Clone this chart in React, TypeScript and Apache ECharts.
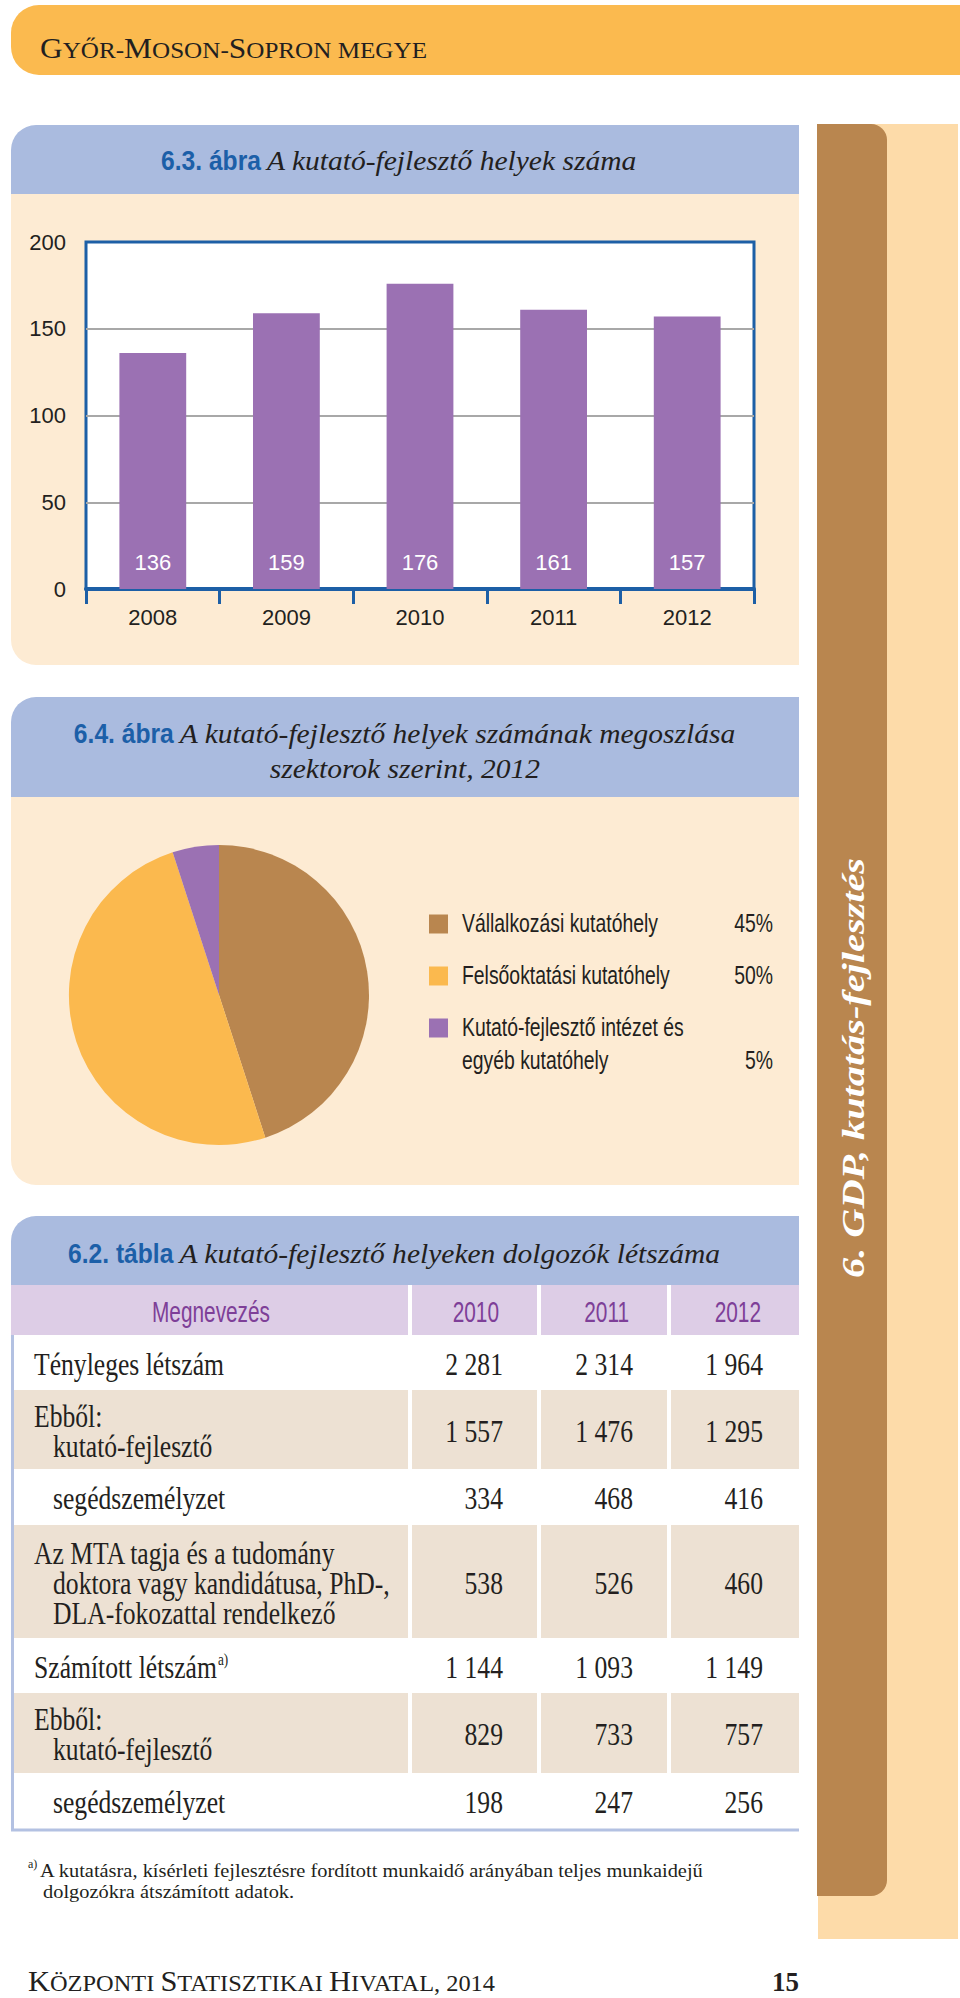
import React, { useEffect, useRef } from "react";
import * as echarts from "echarts";

// ---------------- data ----------------
const bannerText = "Győr-Moson-Sopron megye";
const footerText = "Központi Statisztikai Hivatal, 2014";
const pageNumber = "15";
const sideTabText = "6. GDP, kutatás-fejlesztés";

const barTitleLabel = "6.3. ábra";
const barTitleText = "A kutató-fejlesztő helyek száma";
const barYears = ["2008", "2009", "2010", "2011", "2012"];
const placeCounts = [136, 159, 176, 161, 157];
const yMin = 0;
const yMax = 200;
const yStep = 50;

const pieTitleLabel = "6.4. ábra";
const pieTitleLines = ["A kutató-fejlesztő helyek számának megoszlása", "szektorok szerint, 2012"];
const sectorNames = ["Vállalkozási kutatóhely", "Felsőoktatási kutatóhely", "Kutató-fejlesztő intézet és\negyéb kutatóhely"];
const sectorShares = [45, 50, 5];

const tableTitleLabel = "6.2. tábla";
const tableTitleText = "A kutató-fejlesztő helyeken dolgozók létszáma";
const tableColumnHeader = "Megnevezés";
const tableYears = ["2010", "2011", "2012"];
const tableRowLabels = [
  "Tényleges létszám",
  "Ebből:\nkutató-fejlesztő",
  "segédszemélyzet",
  "Az MTA tagja és a tudomány\ndoktora vagy kandidátusa, PhD-,\nDLA-fokozattal rendelkező",
  "Számított létszám",
  "Ebből:\nkutató-fejlesztő",
  "segédszemélyzet",
];
const tableRowNotes = ["", "", "", "", "a)", "", ""];
const staff2010 = [2281, 1557, 334, 538, 1144, 829, 198];
const staff2011 = [2314, 1476, 468, 526, 1093, 733, 247];
const staff2012 = [1964, 1295, 416, 460, 1149, 757, 256];
const footnoteMark = "a)";
const footnoteLines = [
  "A kutatásra, kísérleti fejlesztésre fordított munkaidő arányában teljes munkaidejű",
  "dolgozókra átszámított adatok.",
];

// ---------------- styles ----------------
const C = {
  ink: "#231F20",
  orange: "#FBBA4F",
  headerBlue: "#AABBDF",
  cream: "#FDEBD3",
  plotBlue: "#1D5FA6",
  titleBlue: "#1C5FA8",
  grid: "#A8A8A8",
  purple: "#9B71B3",
  brown: "#B9864F",
  peach: "#FDDBA9",
  yellow: "#FBB94E",
  lavender: "#DDCDE6",
  lavenderText: "#7E3F98",
  shade: "#EDE1D3",
  tableLine: "#B3C1E2",
};
const sectorColors = [C.brown, C.yellow, C.purple];
const SERIF = '"Liberation Serif", "DejaVu Serif", serif';
const SANS = '"Liberation Sans", Arial, sans-serif';

let measureCtx: CanvasRenderingContext2D | null = null;
function tw(t: string, size: number, family: string, weight = "normal", fstyle = "normal") {
  if (!measureCtx) measureCtx = document.createElement("canvas").getContext("2d");
  measureCtx!.font = `${fstyle} ${weight} ${size}px ${family}`;
  return measureCtx!.measureText(t).width;
}

function fmt(n: number) {
  return n >= 1000 ? `${Math.floor(n / 1000)} ${String(n % 1000).padStart(3, "0")}` : String(n);
}

function rect(x: number, y: number, w: number, h: number, fill: string, r: any = 0, z = 0) {
  return { type: "rect", z, silent: true, shape: { x, y, width: w, height: h, r }, style: { fill } };
}

function text(t: string, x: number, y: number, o: any) {
  const { size, family = SERIF, weight = "normal", fstyle = "normal", color = C.ink, align = "left", valign = "middle", sx = 1, rot = 0 } = o;
  return {
    type: "text",
    x,
    y,
    z: 10,
    silent: true,
    scaleX: sx,
    rotation: rot,
    style: {
      text: t,
      fontSize: size,
      fontFamily: family,
      fontWeight: weight,
      fontStyle: fstyle,
      fill: color,
      align,
      verticalAlign: valign,
      textAlign: align,
      textVerticalAlign: valign,
    },
  };
}

function smallCapsRuns(s: string) {
  const runs: { t: string; big: boolean }[] = [];
  for (const ch of s) {
    const big = ch !== ch.toLowerCase();
    const last = runs[runs.length - 1];
    if (last && last.big === big) last.t += ch.toUpperCase();
    else runs.push({ t: ch.toUpperCase(), big });
  }
  return runs;
}

function buildOption() {
  const E: any[] = [];
  const BIG = 30;
  const SMALL = 24;

  // small caps banner / footer
  const runWidth = (runs: any[]) => runs.reduce((s, r) => s + tw(r.t, r.big ? BIG : SMALL, SERIF), 0);
  const placeRuns = (runs: any[], x0: number, baseline: number, targetW: number) => {
    const sx = targetW / runWidth(runs);
    let x = x0;
    runs.forEach((r) => {
      const size = r.big ? BIG : SMALL;
      E.push(text(r.t, x, baseline - 0.29 * size, { size, family: SERIF, sx }));
      x += tw(r.t, size, SERIF) * sx;
    });
  };

  // top banner
  E.push(rect(11, 5, 960 - 11, 70, C.orange, [28, 0, 0, 28]));
  placeRuns(smallCapsRuns(bannerText), 40, 57, 387);

  // right tab
  E.push(rect(818, 124, 140, 1815, C.peach));
  E.push(rect(817, 124, 70, 1772, C.brown, [0, 16, 16, 0], 1));
  const tabSize = 32;
  const tabSx = 420 / tw(sideTabText, tabSize, SERIF, "bold", "italic");
  E.push(text(sideTabText, 853, 1068, { size: tabSize, family: SERIF, weight: "bold", fstyle: "italic", color: "#fff", align: "center", sx: tabSx, rot: Math.PI / 2 }));

  // panel backgrounds
  E.push(rect(11, 125, 788, 69, C.headerBlue, [25, 0, 0, 0]));
  E.push(rect(11, 194, 788, 471, C.cream, [0, 0, 0, 25]));
  E.push(rect(11, 697, 788, 100, C.headerBlue, [25, 0, 0, 0]));
  E.push(rect(11, 797, 788, 388, C.cream, [0, 0, 0, 25]));
  E.push(rect(11, 1216, 788, 69, C.headerBlue, [25, 0, 0, 0]));

  // titles
  const TS = 28;
  const blueSx = 100 / tw(barTitleLabel, TS, SANS, "bold");
  const italSx = 370 / tw(barTitleText, TS, SERIF, "normal", "italic");
  const gap = 6;
  const titleRow = (label: string, rest: string, y: number, where: { center?: number; left?: number }) => {
    const bw = label ? tw(label, TS, SANS, "bold") * blueSx : 0;
    const iw = tw(rest, TS, SERIF, "normal", "italic") * italSx;
    const total = bw + (label ? gap : 0) + iw;
    const x0 = where.center !== undefined ? where.center - total / 2 : where.left!;
    if (label) E.push(text(label, x0, y, { size: TS, family: SANS, weight: "bold", color: C.titleBlue, sx: blueSx }));
    E.push(text(rest, x0 + bw + (label ? gap : 0), y, { size: TS, family: SERIF, fstyle: "italic", sx: italSx }));
  };
  titleRow(barTitleLabel, barTitleText, 160, { center: 399 });
  titleRow(pieTitleLabel, pieTitleLines[0], 733, { center: 405 });
  titleRow("", pieTitleLines[1], 768, { center: 405 });
  titleRow(tableTitleLabel, tableTitleText, 1253, { left: 68 });

  // pie legend
  const LS = 25;
  const legSx = 196 / tw(sectorNames[0], LS, SANS);
  const legRowY = [924, 976, 1028];
  sectorNames.forEach((name, i) => {
    const y = legRowY[i];
    E.push(rect(429, y - 9.5, 19, 19, sectorColors[i], 0, 5));
    const lines = name.split("\n");
    lines.forEach((ln, k) => E.push(text(ln, 462, y + k * 33, { size: LS, family: SANS, sx: legSx })));
    E.push(text(`${sectorShares[i]}%`, 773, y + (lines.length - 1) * 33, { size: LS, family: SANS, align: "right", sx: legSx }));
  });

  // table
  const colX = [
    [11, 408],
    [412, 537],
    [541, 667],
    [671, 799],
  ];
  colX.forEach(([a, b]) => E.push(rect(a, 1285, b - a, 50, C.lavender)));
  const HS = 30;
  const headSx = 118 / tw(tableColumnHeader, HS, SANS);
  E.push(text(tableColumnHeader, 211, 1312, { size: HS, family: SANS, color: C.lavenderText, align: "center", sx: headSx }));
  tableYears.forEach((yr, i) => E.push(text(yr, colX[i + 1][1] - 38, 1312, { size: HS, family: SANS, color: C.lavenderText, align: "right", sx: headSx })));

  const rowEdges = [1335, 1390, 1469, 1525, 1638, 1693, 1773, 1829];
  const shaded = [false, true, false, true, false, true, false];
  const rowIndented = [false, false, true, false, false, false, true];
  const columns = [staff2010, staff2011, staff2012];
  const numRight = [503, 633, 763];
  const BS = 31;
  const tabTextSx = 190 / tw(tableRowLabels[0], BS, SERIF);
  tableRowLabels.forEach((lab, r) => {
    const top = rowEdges[r];
    const bot = rowEdges[r + 1];
    const mid = (top + bot) / 2 + 2;
    if (shaded[r]) colX.forEach(([a, b], i) => E.push(rect(i === 0 ? 14 : a, top, b - (i === 0 ? 14 : a), bot - top, C.shade)));
    const lines = lab.split("\n");
    lines.forEach((ln, k) => {
      const y = mid + (k - (lines.length - 1) / 2) * 30;
      const x = k > 0 || rowIndented[r] ? 53 : 34;
      E.push(text(ln, x, y, { size: BS, family: SERIF, sx: tabTextSx }));
      if (k === lines.length - 1 && tableRowNotes[r]) {
        E.push(text(tableRowNotes[r], x + tw(ln, BS, SERIF) * tabTextSx + 1, y - 8, { size: 16, family: SERIF, sx: tabTextSx }));
      }
    });
    columns.forEach((col, i) => E.push(text(fmt(col[r]), numRight[i], mid, { size: BS, family: SERIF, align: "right", sx: tabTextSx })));
  });
  E.push({ type: "line", z: 6, silent: true, shape: { x1: 12.5, y1: 1335, x2: 12.5, y2: 1831 }, style: { stroke: C.tableLine, lineWidth: 3 } });
  E.push({ type: "line", z: 6, silent: true, shape: { x1: 11, y1: 1830, x2: 799, y2: 1830 }, style: { stroke: C.tableLine, lineWidth: 3 } });

  // footnote
  const FS = 19;
  const footSx = 664 / tw(footnoteLines[0], FS, SERIF);
  E.push(text(footnoteMark, 28, 1864, { size: 12, family: SERIF }));
  E.push(text(footnoteLines[0], 40, 1870, { size: FS, family: SERIF, sx: footSx }));
  E.push(text(footnoteLines[1], 43, 1891, { size: FS, family: SERIF, sx: footSx }));

  // footer
  placeRuns(smallCapsRuns(footerText), 28, 1990, 467);
  E.push(text(pageNumber, 799, 1982, { size: 27, family: SERIF, weight: "bold", align: "right" }));

  return {
    animation: false,
    backgroundColor: "#ffffff",
    graphic: { elements: E },
    grid: {
      left: 86,
      top: 242,
      width: 668,
      height: 347,
      show: true,
      backgroundColor: "#ffffff",
      borderColor: C.plotBlue,
      borderWidth: 3,
      z: 3,
    },
    xAxis: {
      type: "category",
      data: barYears,
      z: 5,
      axisLine: { show: true, lineStyle: { color: C.plotBlue, width: 4 } },
      axisTick: { show: true, length: 15, lineStyle: { color: C.plotBlue, width: 3 } },
      axisLabel: { margin: 17, fontSize: 22, color: C.ink, fontFamily: SANS },
    },
    yAxis: {
      type: "value",
      min: yMin,
      max: yMax,
      interval: yStep,
      z: 4,
      axisLine: { show: false },
      axisTick: { show: false },
      splitLine: { show: true, showMinLine: false, showMaxLine: false, lineStyle: { color: C.grid, width: 2 } },
      axisLabel: { margin: 20, fontSize: 22, color: C.ink, fontFamily: SANS },
    },
    series: [
      {
        type: "bar",
        data: placeCounts,
        barWidth: "50%",
        z: 6,
        silent: true,
        itemStyle: { color: C.purple },
        label: { show: true, position: "insideBottom", distance: 16, color: "#ffffff", fontSize: 22, fontFamily: SANS },
      },
      {
        type: "pie",
        center: [219, 995],
        radius: 150,
        startAngle: 90,
        clockwise: true,
        z: 6,
        silent: true,
        label: { show: false },
        labelLine: { show: false },
        data: sectorNames.map((n, i) => ({ name: n, value: sectorShares[i], itemStyle: { color: sectorColors[i] } })),
      },
    ],
  };
}

export default function App() {
  const ref = useRef<HTMLDivElement>(null);
  useEffect(() => {
    document.body.style.margin = "0";
    const chart = echarts.init(ref.current!, undefined, { renderer: "svg", width: 960, height: 1998 });
    chart.setOption(buildOption() as any);
    return () => chart.dispose();
  }, []);
  return <div ref={ref} style={{ width: 960, height: 1998 }} />;
}
